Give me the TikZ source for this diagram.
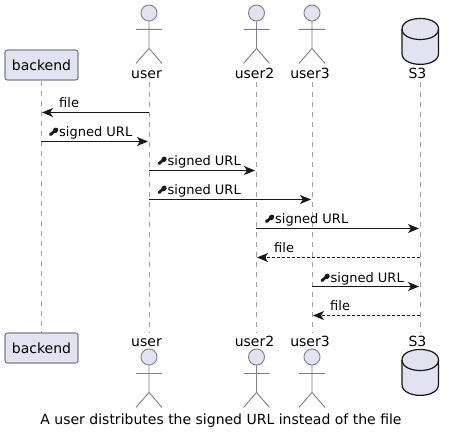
\documentclass[tikz,border=0pt]{standalone}
\usepackage{fontspec}
\setmainfont{DejaVu Sans}
\usetikzlibrary{arrows.meta}
\definecolor{partfill}{HTML}{E2E2F0}
\definecolor{partline}{HTML}{181818}
\definecolor{lifegray}{HTML}{A0A0A0}
\definecolor{softline}{HTML}{808088}
\tikzset{
  lifeline/.style={draw=lifegray,line width=1pt,dash pattern=on 5pt off 5pt},
  actorline/.style={draw=softline,line width=0.9pt},
  actorhead/.style={draw=softline,fill=partfill,line width=0.9pt},
  partbox/.style={draw=softline,fill=partfill,line width=1.1pt,rounded corners=2.5pt,minimum width=73pt,minimum height=30pt,inner sep=0pt,font=\fontsize{14}{16}\selectfont},
  partname/.style={inner sep=0pt,anchor=base,font=\fontsize{14}{16}\selectfont},
  dbshape/.style={draw=partline,fill=partfill,line width=1.2pt},
  msg/.style={-{Stealth[length=11pt,width=9pt,inset=3pt]},draw=partline,line width=1.1pt},
  msgret/.style={msg,dash pattern=on 3pt off 2pt},
  msgtext/.style={inner sep=0pt,anchor=base west,font=\fontsize{13}{15}\selectfont},
  captiontext/.style={inner sep=0pt,anchor=base,font=\fontsize{14}{16}\selectfont},
}
\newcommand{\actorfig}[3]{% x, head-centre y, name
  \node[actorhead,circle,minimum size=16pt,inner sep=0pt] (#3) at (#1,#2) {};
  \draw[actorline] (#3.south) -- ++(0,27) ++(-13,-19) -- ++(26,0)
     ++(-13,19) -- ++(-13,15) ++(13,-15) -- ++(13,15);
}
\newcommand{\cyl}[2]{% top y, name
  \path[dbshape] (402,#1+10.5) .. controls (402,#1-3.5) and (438.5,#1-3.5) .. (438.5,#1+10.5)
     -- (438.5,#1+35) .. controls (438.5,#1+49.5) and (402,#1+49.5) .. (402,#1+35) -- cycle;
  \draw[dbshape,fill=none] (402,#1+10.5) .. controls (402,#1+24.5) and (438.5,#1+24.5) .. (438.5,#1+10.5);
  \coordinate (#2) at (420.2,#1+23);
}
\newcommand{\keyicon}[2]{% left x, baseline y
  \fill[partline,shift={(#1,#2)}] (-0.2,-0.3) -- (2.2,-0.3) -- (4.4,-2.8) .. controls (6,-2.4) and (8,-3.6) .. (8.6,-5.2)
     .. controls (9.2,-7) and (8,-8.6) .. (6.2,-8.4) .. controls (4.4,-8.2) and (3,-6.6) .. (3.2,-5) -- (0,-2.6) -- cycle;
}
\begin{document}
\begin{tikzpicture}[x=1pt,y=-1pt]
\useasboundingbox (0,0) rectangle (455,436);
% lifeline end points
\coordinate (bT) at (41.5,81);  \coordinate (bB) at (41.5,333);
\coordinate (uT) at (149.5,82); \coordinate (uB) at (149.5,333);
\coordinate (u2T) at (256.5,82); \coordinate (u2B) at (256.5,333);
\coordinate (u3T) at (312.5,82); \coordinate (u3B) at (312.5,333);
\coordinate (sT) at (420.5,82); \coordinate (sB) at (420.5,333);
\foreach \t/\b in {bT/bB,uT/uB,u2T/u2B,u3T/u3B,sT/sB} \draw[lifeline] (\t) -- (\b);
% participants, top
\node[partbox] (backendtop) at (41.5,65) {backend};
\actorfig{149}{13}{usertop}
\actorfig{256.5}{13}{user2top}
\actorfig{312}{13}{user3top}
\cyl{18.5}{s3top}
\node[partname] (usertopname) at (146.5,78) {user};
\node[partname] (user2topname) at (254.5,78) {user2};
\node[partname] (user3topname) at (310,78) {user3};
\node[partname] (s3topname) at (417.5,78) {S3};
% participants, bottom
\node[partbox] (backendbot) at (41.5,348) {backend};
\actorfig{149}{357}{userbot}
\actorfig{256.5}{357}{user2bot}
\actorfig{312}{357}{user3bot}
\cyl{349.5}{s3bot}
\node[partname] (userbotname) at (146.5,346) {user};
\node[partname] (user2botname) at (254.5,346) {user2};
\node[partname] (user3botname) at (310,346) {user3};
\node[partname] (s3botname) at (417.5,346) {S3};
% messages
\coordinate (m1a) at (149,112.5); \coordinate (m1b) at (42,112.5);
\coordinate (m2a) at (41,141.5);  \coordinate (m2b) at (148,141.5);
\coordinate (m3a) at (149,170.5); \coordinate (m3b) at (255,170.5);
\coordinate (m4a) at (149,199.5); \coordinate (m4b) at (311,199.5);
\coordinate (m5a) at (256,228.5); \coordinate (m5b) at (419,228.5);
\coordinate (m6a) at (420,257.5); \coordinate (m6b) at (257,257.5);
\coordinate (m7a) at (312,286.5); \coordinate (m7b) at (419,286.5);
\coordinate (m8a) at (420,315.5); \coordinate (m8b) at (313,315.5);
\draw[msg] (m1a) -- (m1b);
\draw[msg] (m2a) -- (m2b);
\draw[msg] (m3a) -- (m3b);
\draw[msg] (m4a) -- (m4b);
\draw[msg] (m5a) -- (m5b);
\draw[msgret] (m6a) -- (m6b);
\draw[msg] (m7a) -- (m7b);
\draw[msgret] (m8a) -- (m8b);
% labels
\node[msgtext] (l1) at (59,107) {file};
\keyicon{49.5}{136}\node[msgtext] (l2) at (59,136) {signed URL};
\keyicon{158}{165}\node[msgtext] (l3) at (167.5,165) {signed URL};
\keyicon{158}{194}\node[msgtext] (l4) at (167.5,194) {signed URL};
\keyicon{265.5}{223}\node[msgtext] (l5) at (275,223) {signed URL};
\node[msgtext] (l6) at (274,252) {file};
\keyicon{321}{282}\node[msgtext] (l7) at (330.5,282) {signed URL};
\node[msgtext] (l8) at (330,310) {file};
\node[captiontext] (cap) at (221,424) {A user distributes the signed URL instead of the file};
\end{tikzpicture}
\end{document}
